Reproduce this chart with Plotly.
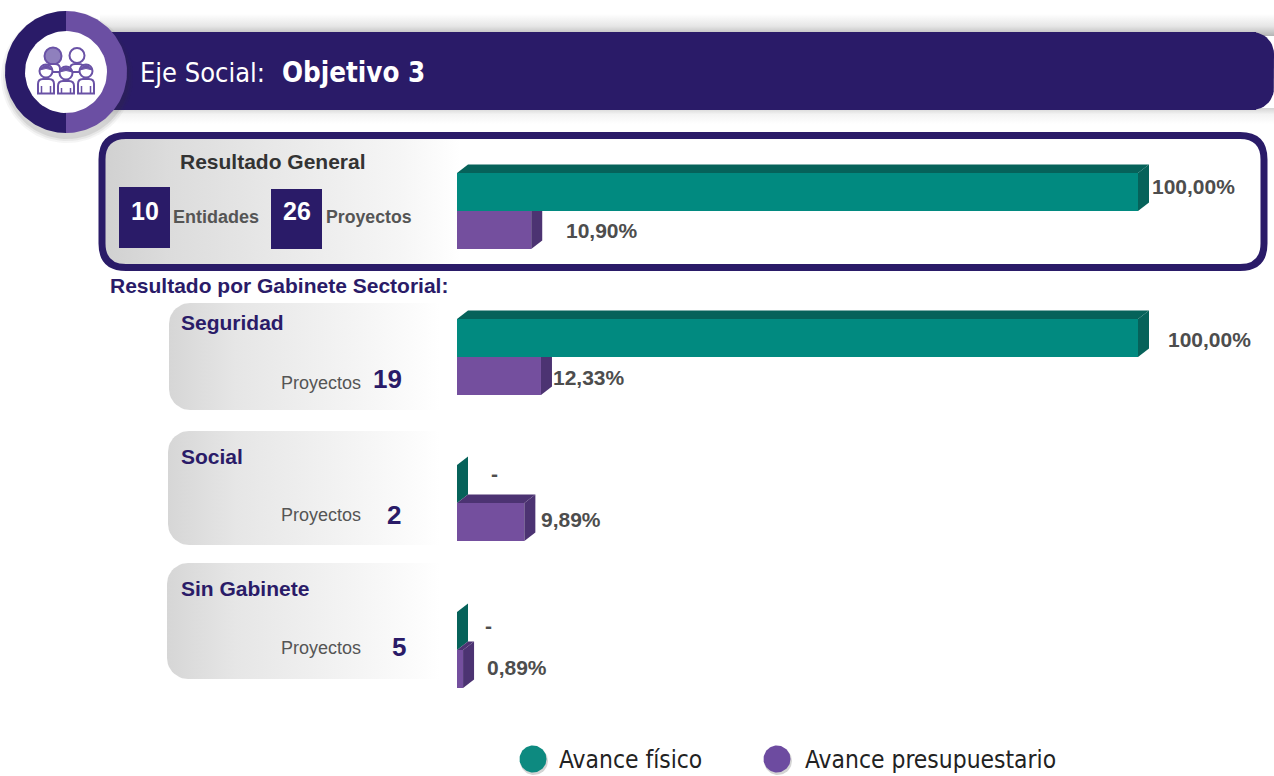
import numpy as np
import plotly.graph_objects as go

W, H = 1274, 776
NAVY = "#2a1b68"
GRAY = "#4d4d4d"
TEAL, TEAL_D = "#018a80", "#06625a"
PURP, PURP_D = "#744f9e", "#4c3372"
SANS = "Liberation Sans"
NARROW = "DejaVu Sans Condensed"

# ---- data ----
grupos = ["Resultado General", "Seguridad", "Social", "Sin Gabinete"]
avance_fisico = [100.0, 100.0, 0.0, 0.0]
avance_presupuestario = [10.90, 12.33, 9.89, 0.89]
etiqueta_fisico = ["100,00%", "100,00%", "-", "-"]
etiqueta_presup = ["10,90%", "12,33%", "9,89%", "0,89%"]
proyectos_gabinete = [19, 2, 5]
gabinetes = ["Seguridad", "Social", "Sin Gabinete"]
entidades_total = 10
proyectos_total = 26
leyenda = ["Avance físico", "Avance presupuestario"]

# ---- layout constants (pixels) ----
X0, PX_PER_UNIT = 457, 6.81
FRONT_TOP = [173, 319, 465, 612]
BAR_H = 38
DX, DY = 11 / PX_PER_UNIT, 8.5

fig = go.Figure()


def rrect(x0, y0, x1, y1, r, left=True, right=True, n=12):
    t = np.linspace(0, np.pi / 2, n)
    xs, ys = [], []
    rl = r if left else 0.01
    rr = r if right else 0.01
    xs += list(x0 + rl - rl * np.cos(t)); ys += list(y0 + rl - rl * np.sin(t))
    xs += list(x1 - rr + rr * np.sin(t)); ys += list(y0 + rr - rr * np.cos(t))
    xs += list(x1 - rr + rr * np.cos(t)); ys += list(y1 - rr + rr * np.sin(t))
    xs += list(x0 + rl - rl * np.sin(t)); ys += list(y1 - rl + rl * np.cos(t))
    return xs + [xs[0]], ys + [ys[0]]


def poly(xs, ys, color=None, grad=None, xa="x", ya="y", opacity=None):
    kw = dict(x=list(xs), y=list(ys), mode="lines", fill="toself", line=dict(width=0),
              hoverinfo="skip", showlegend=False, xaxis=xa, yaxis=ya)
    if grad:
        kw["fillgradient"] = grad
        kw["fillcolor"] = "rgba(0,0,0,0)"
    else:
        kw["fillcolor"] = color
    if opacity is not None:
        kw["opacity"] = opacity
    fig.add_trace(go.Scatter(**kw))


def circle(cx, cy, r, color, a0=0.0, a1=2 * np.pi, opacity=None):
    t = np.linspace(a0, a1, 90)
    poly(cx + r * np.cos(t), cy + r * np.sin(t), color, opacity=opacity)


# header shadow and band (y axis is reversed, so the vertical scales read bottom-up)
poly([100, W, W, 100], [14, 14, 36, 36],
     grad=dict(type="vertical", colorscale=[[0, "#b4b4b4"], [0.45, "#e6e6e6"], [1, "#ffffff"]]))
poly([100, W, W, 100], [108, 108, 124, 124],
     grad=dict(type="vertical", colorscale=[[0, "#ffffff"], [0.6, "#f3f3f3"], [1, "#d4d4d4"]]))
bx, by = rrect(90, 32, 1274, 110, 22, left=False)
poly(bx, by, NAVY)
poly([90, 1256, 1256, 90], [32, 32, 110, 110], NAVY)

# ring
for r, op in ((66, 0.05), (64, 0.07), (62, 0.10)):
    circle(67, 77, r, "#333333", opacity=op)
circle(66, 72, 61, NAVY, np.pi / 2, 3 * np.pi / 2)
circle(66, 72, 61, "#6b4fa3", -np.pi / 2, np.pi / 2)
circle(66, 72, 41, "#ffffff")

# general panel
px, py = rrect(100, 135, 1264, 268, 24)
poly(px, py, grad=dict(type="horizontal", colorscale=[[0, "#d0d0d0"], [0.06, "#dcdcdc"], [0.15, "#e8e8e8"], [0.26, "#f6f6f6"], [0.31, "#ffffff"], [1, "#ffffff"]]))

# sector panels
for (x0, y0, y1) in ((169, 303, 410), (168, 431, 545), (167, 563, 679)):
    px, py = rrect(x0, y0, 440, y1, 21, right=False)
    poly(px, py, grad=dict(type="horizontal", colorscale=[[0, "#d6d6d6"], [0.25, "#e6e6e6"], [0.65, "#f3f3f3"], [0.92, "#fcfcfc"], [1, "#ffffff"]]))

# front faces from data
fig.add_trace(go.Bar(x=avance_presupuestario, y=[t + 1.5 * BAR_H for t in FRONT_TOP], width=BAR_H,
                     orientation="h", marker=dict(color=PURP, line=dict(width=0)), xaxis="x2", yaxis="y2",
                     hoverinfo="skip", showlegend=False))
fig.add_trace(go.Bar(x=avance_fisico, y=[t + 0.5 * BAR_H for t in FRONT_TOP], width=BAR_H,
                     orientation="h", marker=dict(color=TEAL, line=dict(width=0)), xaxis="x2", yaxis="y2",
                     hoverinfo="skip", showlegend=False))

# depth faces derived from the same data
for v_f, v_p, t in zip(avance_fisico, avance_presupuestario, FRONT_TOP):
    poly([0, DX, v_f + DX, v_f], [t, t - DY, t - DY, t], TEAL_D, xa="x2", ya="y2")
    poly([v_f, v_f + DX, v_f + DX, v_f], [t, t - DY, t + BAR_H - DY, t + BAR_H], TEAL_D, xa="x2", ya="y2")
    pt = t + BAR_H
    if v_f > v_p:
        poly([v_p, v_p + DX, v_p + DX, v_p], [pt, pt, pt + BAR_H - DY, pt + BAR_H], PURP_D, xa="x2", ya="y2")
    else:
        poly([0, DX, v_p + DX, v_p], [pt, pt - DY, pt - DY, pt], PURP_D, xa="x2", ya="y2")
        poly([v_p, v_p + DX, v_p + DX, v_p], [pt, pt - DY, pt + BAR_H - DY, pt + BAR_H], PURP_D, xa="x2", ya="y2")

# legend markers
for (cx, cy, col) in ((533, 759, "#0d8a80"), (777, 759, "#6d4ba0")):
    circle(cx + 1, cy + 2, 14, "#555555", opacity=0.25)
    circle(cx, cy, 13.5, col)

annots = []


def txt(x, y, s, size, color=GRAY, bold=False, family=SANS, anchor="left"):
    shift = 1 if anchor == "left" else 0
    annots.append(dict(xref="x", yref="y", x=x - shift, y=y - 1, text=f"<b>{s}</b>" if bold else s, showarrow=False,
                       xanchor=anchor, yanchor="middle", borderpad=0,
                       font=dict(size=size, color=color, family=family)))


txt(140, 73, "Eje Social:", 27, "#ffffff", family=NARROW)
txt(282, 73, "Objetivo 3", 27.5, "#ffffff", True, NARROW)

txt(180, 162, grupos[0], 21, "#333333", True)
txt(173, 218, "Entidades", 18, "#555555", True)
txt(326, 218, "Proyectos", 17.7, "#555555", True)
txt(144.5, 212, str(entidades_total), 25, "#ffffff", True, anchor="center")
txt(296.5, 212, str(proyectos_total), 25, "#ffffff", True, anchor="center")

txt(110, 286, "Resultado por Gabinete Sectorial:", 21, NAVY, True)

vals_pos = [(1152, 187, 566, 231), (1168, 340, 553, 378), (491, 474, 541, 520), (485, 626, 487, 668)]
for (xf, yf, xp, yp), lf, lp in zip(vals_pos, etiqueta_fisico, etiqueta_presup):
    txt(xf, yf, lf, 21, GRAY, True)
    txt(xp, yp, lp, 21, GRAY, True)

gab_pos = [(323, 384, 387, 380), (457, 516, 394, 516), (589, 649, 399, 648)]
for name, n, (yt, yp, xn, yn) in zip(gabinetes, proyectos_gabinete, gab_pos):
    txt(181, yt, name, 21, NAVY, True)
    txt(281, yp, "Proyectos", 18, "#555555")
    txt(xn, yn, str(n), 26, NAVY, True, anchor="center")

txt(559, 760, leyenda[0], 24.4, "#222222", family=NARROW)
txt(805, 760, leyenda[1], 24.4, "#222222", family=NARROW)

ICON = "#6a52a6"
shapes = [
    dict(type="rect", x0=119, x1=170, y0=187, y1=248, fillcolor=NAVY, line_width=0),
    dict(type="rect", x0=271, x1=322, y0=189, y1=249, fillcolor=NAVY, line_width=0),
]
# general frame
x0, y0, x1, y1, r = 102, 135.5, 1264, 267.5, 24
shapes.append(dict(type="path", line=dict(color=NAVY, width=7), fillcolor="rgba(0,0,0,0)",
                   path=f"M{x0+r},{y0} L{x1-r},{y0} Q{x1},{y0} {x1},{y0+r} L{x1},{y1-r} Q{x1},{y1} {x1-r},{y1} "
                        f"L{x0+r},{y1} Q{x0},{y1} {x0},{y1-r} L{x0},{y0+r} Q{x0},{y0} {x0+r},{y0} Z"))


def ic(cx, cy, r, fill="rgba(0,0,0,0)"):
    shapes.append(dict(type="circle", x0=cx - r, x1=cx + r, y0=cy - r, y1=cy + r,
                       fillcolor=fill, line=dict(color=ICON, width=2)))


def body(x0, x1, y0, y1):
    shapes.append(dict(type="path", line=dict(color=ICON, width=2), fillcolor="#ffffff",
                       path=f"M{x0},{y1} L{x0},{y0+5} Q{x0},{y0} {x0+5},{y0} L{x1-5},{y0} Q{x1},{y0} {x1},{y0+5} L{x1},{y1} Z"))
    shapes.append(dict(type="path", line=dict(color=ICON, width=1.5), path=f"M{x0+3.5},{y1} L{x0+3.5},{y0+7} M{x1-3.5},{y1} L{x1-3.5},{y0+7}"))


ic(53, 56, 8.5, "#8f80bd")
ic(77, 55.5, 7.5, "#ffffff")
body(46, 60, 64, 72)
body(70, 84, 64, 72)
for cx, cy in ((46, 71), (66, 73), (86, 71)):
    body(cx - 8, cx + 8, cy + 8, 93.5)
    ic(cx, cy, 6.5, "#ffffff")
    shapes.append(dict(type="path", fillcolor=ICON, line=dict(color=ICON, width=1),
                       path=f"M{cx-6.5},{cy-1} Q{cx},{cy-10} {cx+6.5},{cy-1} Q{cx},{cy-4} {cx-6.5},{cy-1} Z"))

fig.update_layout(
    width=W, height=H, margin=dict(l=0, r=0, t=0, b=0), paper_bgcolor="#ffffff", plot_bgcolor="rgba(0,0,0,0)",
    barmode="overlay", showlegend=False, hovermode=False, shapes=shapes, annotations=annots,
    xaxis=dict(range=[0, W], visible=False, fixedrange=True),
    yaxis=dict(range=[H, 0], visible=False, fixedrange=True),
    xaxis2=dict(range=[-X0 / PX_PER_UNIT, (W - X0) / PX_PER_UNIT], visible=False, overlaying="x", fixedrange=True),
    yaxis2=dict(range=[H, 0], visible=False, overlaying="y", fixedrange=True),
)
fig.write_html("out.html", config=dict(displayModeBar=False),
               post_script="document.body.style.margin='0';document.body.style.overflow='hidden';")
